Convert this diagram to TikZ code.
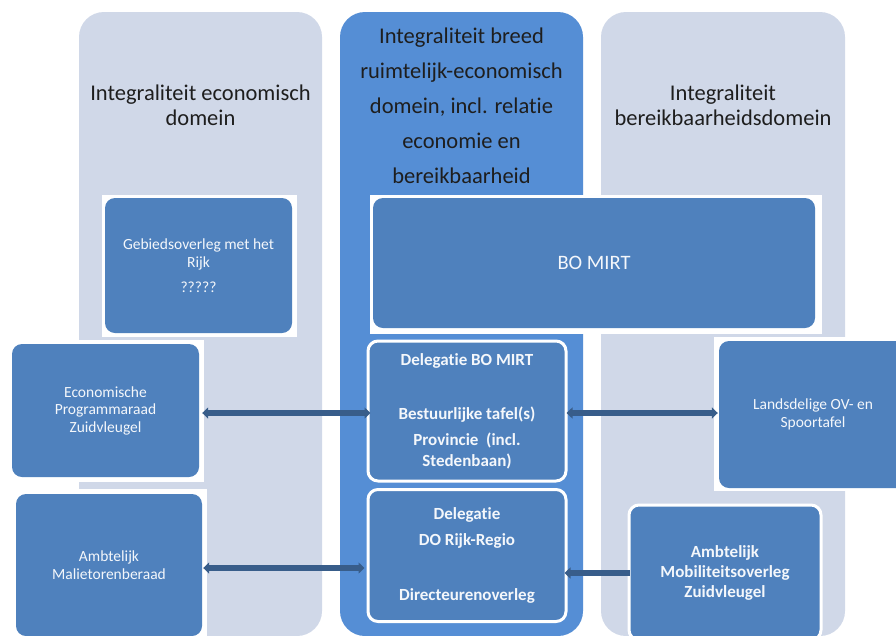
\documentclass[tikz,border=0pt]{standalone}
\usepackage{fontspec}
\setmainfont{Carlito}[RawFeature=-liga]
\usetikzlibrary{arrows.meta}
\definecolor{colgrey}{HTML}{D0D8E8}
\definecolor{colmid}{HTML}{558ED5}
\definecolor{boxblue}{HTML}{4F81BD}
\definecolor{arrowblue}{HTML}{385D8A}
\definecolor{titletext}{HTML}{1E1E1E}
\definecolor{boxtext}{HTML}{F4F7FB}
\tikzset{
  column/.style={rounded corners=25pt, draw=none},
  backing/.style={fill=white, draw=none},
  bluebox/.style={fill=boxblue, draw=none, rounded corners=10pt, text=boxtext, align=center, inner sep=0pt},
  ringbox/.style={bluebox, draw=white, line width=3pt},
  regtext/.style={font=\fontsize{15.5}{18}\selectfont},
  boldtext/.style={font=\bfseries\fontsize{17}{21}\selectfont},
  title/.style={text=titletext, align=center, inner sep=0pt, font=\fontsize{22.5}{25}\selectfont},
  conn/.style={draw=arrowblue, line width=6pt, {Triangle[width=11pt,length=6pt]}-{Triangle[width=11pt,length=6pt]}},
  connleft/.style={draw=arrowblue, line width=6pt, {Triangle[width=11pt,length=6pt]}-}
}
\begin{document}
\begin{tikzpicture}[x=1pt,y=-1pt]
\useasboundingbox (0,0) rectangle (896,635);
\clip (0,0) rectangle (896,635);
\fill[white] (0,0) rectangle (896,635);
% columns
\fill[colgrey, column] (79,12) rectangle (322,636);
\fill[colmid, column] (340,12) rectangle (583,636);
\fill[colgrey, column] (601,12) rectangle (845,636);
% titles
\node[title] (tleft) at (200.5,105.5) {Integraliteit economisch\\domein};
\node[title, font=\fontsize{22.5}{35}\selectfont] (tmid) at (461.5,106) {Integraliteit breed\\ruimtelijk-economisch\\domein, incl. relatie\\economie en\\bereikbaarheid};
\node[title] (tright) at (723,105.5) {Integraliteit\\bereikbaarheidsdomein};
% white backings
\fill[backing] (102,195) rectangle (297,337);
\fill[backing] (370,195) rectangle (822,334);
\fill[backing] (9,340) rectangle (204,482);
\fill[backing] (12,489) rectangle (207,640);
\fill[backing] (714,337) rectangle (910,491);
% boxes
\node[bluebox, regtext, minimum width=187pt, minimum height=135pt] (geb) at (198.5,265.5) {Gebiedsoverleg met het\\Rijk\\[7pt]?????};
\node[bluebox, font=\fontsize{20.5}{24}\selectfont, minimum width=442pt, minimum height=130pt] (bomirt) at (594,263) {BO MIRT};
\node[ringbox, boldtext, minimum width=198pt, minimum height=140pt] (delbo) at (467,411) {Delegatie BO MIRT\\[33pt]Bestuurlijke tafel(s)\\[5pt]Provincie\ \ (incl.\\Stedenbaan)};
\node[ringbox, boldtext, minimum width=198pt, minimum height=132pt] (deldo) at (467,555.5) {Delegatie\\[5pt]DO Rijk-Regio\\[34pt]Directeurenoverleg};
\node[bluebox, font=\fontsize{15.5}{17.5}\selectfont, minimum width=187pt, minimum height=133pt] (eco) at (105.5,410.5) {Economische\\Programmaraad\\Zuidvleugel};
\node[bluebox, regtext, minimum width=186pt, minimum height=142pt] (mal) at (109,565) {Ambtelijk\\Malietorenberaad};
\node[bluebox, regtext, minimum width=188pt, minimum height=147pt] (lands) at (813,414.5) {Landsdelige OV- en\\Spoortafel};
\node[ringbox, font=\bfseries\fontsize{17}{20}\selectfont, minimum width=192pt, minimum height=135pt] (mob) at (725,572.5) {Ambtelijk\\Mobiliteitsoverleg\\Zuidvleugel};
% connectors
\draw[conn] ([shift={(3pt,-2.5pt)}]eco.east) -- ([shift={(4pt,-2pt)}]delbo.west);
\draw[conn] ([shift={(-1pt,-2pt)}]delbo.east) -- ([shift={(-1pt,1.5pt)}]lands.west);
\draw[conn] ([shift={(1pt,-3pt)}]mal.east) -- ([shift={(-2pt,-12.5pt)}]deldo.west);
\draw[connleft] ([shift={(-3pt,-17.5pt)}]deldo.east) -- ([shift={(2pt,-0.5pt)}]mob.west);
\end{tikzpicture}
\end{document}
